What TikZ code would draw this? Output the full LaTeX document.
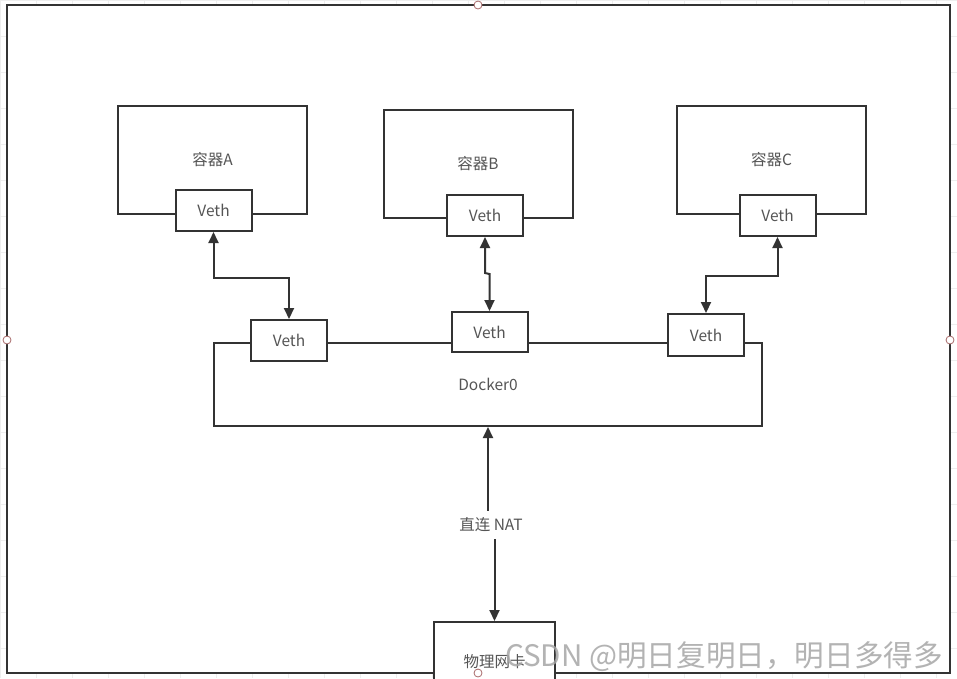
\documentclass[tikz,border=0pt]{standalone}
\usepackage{fontspec}
\setmainfont{Noto Sans CJK SC}
\usetikzlibrary{arrows.meta,calc}
\definecolor{ln}{HTML}{333333}
\definecolor{tx}{HTML}{555555}
\definecolor{hdl}{HTML}{A86A6A}
\definecolor{gridc}{HTML}{EEEEEE}
\begin{document}
\begin{tikzpicture}[x=1pt,y=-1pt,
  box/.style={draw=ln,line width=2pt,fill=white,inner sep=0pt,text=tx,
              font=\fontsize{15.5}{17}\selectfont},
  vethbox/.style={box,minimum width=76pt,minimum height=41pt},
  ctr/.style={box,minimum width=189pt,minimum height=108pt},
  link/.style={draw=ln,line width=2pt,
               {Triangle[length=11pt,width=10pt]}-{Triangle[length=11pt,width=10pt]}},
  tip/.style={draw=ln,line width=2pt,-{Triangle[length=11pt,width=10pt]}},
  handle/.style={draw=hdl,fill=white,line width=0.8pt,circle,inner sep=0pt,minimum size=8pt}
]
\useasboundingbox (0,0) rectangle (957,678);
\clip (0,0) rectangle (957,678);

% background grid and white canvas
\draw[gridc,line width=0.6pt] (0,0) grid[step=36pt] (957,678);
\draw[ln,line width=2pt,fill=white] (7,5) rectangle (950,673);

% containers
\node[ctr] (cA) at (212.5,160) {容器A};
\node[ctr] (cB) at (478,164) {容器B};
\node[ctr] (cC) at (771.5,160) {容器C};

% container interfaces
\node[vethbox] (vA) at (213.5,210.5) {Veth};
\node[vethbox] (vB) at (485,215.5) {Veth};
\node[vethbox] (vC) at (777.5,215.5) {Veth};

% bridge
\node[box,minimum width=548pt,minimum height=83pt] (d0) at (488,384.5) {Docker0};
\node[vethbox] (v1) at (289,340.5) {Veth};
\node[vethbox,minimum height=40pt] (v2) at (489.5,332) {Veth};
\node[vethbox,minimum height=42pt] (v3) at (706,335) {Veth};

% veth pairs
\draw[link] (vA.south) -- ++(0,46) -| (v1.north);
\draw[link] (vB.south) -- ++(0,36) -- ($(v2.north)+(0,-37)$) -- (v2.north);
\draw[link] (vC.south) -- ++(0,39) -| (v3.north);

% host NIC
\node[box,minimum width=121pt,minimum height=80pt] (nic) at (494.5,662) {物理网卡};
\node[text=tx,font=\fontsize{15.5}{17}\selectfont,inner sep=2pt] (nat) at (491,525) {直连 NAT};
\draw[tip] (nat.north -| d0.south) ++(0,-5) -- (d0.south);
\draw[tip] (nat.south -| nic.north) ++(0,5) -- (nic.north);

% selection handles
\node[handle] (h1) at (478,5) {};
\node[handle] (h2) at (7,340) {};
\node[handle] (h3) at (950,340) {};
\node[handle] (h4) at (478,673) {};

% watermark
\node[anchor=base west,text=gray!70,opacity=0.85,inner sep=0pt,
      font=\fontsize{29.6}{31}\selectfont] (wm) at (505,666) {CSDN @明日复明日，明日多得多};
\end{tikzpicture}
\end{document}
